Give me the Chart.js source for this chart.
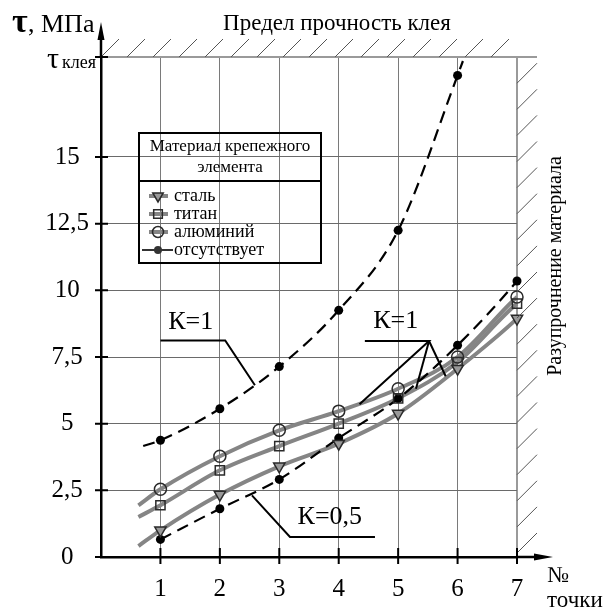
<!DOCTYPE html>
<html>
<head>
<meta charset="utf-8">
<script src="https://cdn.jsdelivr.net/npm/chart.js@4/dist/chart.umd.min.js"></script>
<style>
html, body { margin: 0; padding: 0; background: #fff; }
#wrap { width: 612px; height: 611px; }
</style>
</head>
<body>
<div id="wrap"><canvas id="chart" width="612" height="611"></canvas></div>
<script>
const SERIF = '"Liberation Serif", "DejaVu Serif", serif';

// tick labels
const pointNumbers = [1, 2, 3, 4, 5, 6, 7];
const yTickValues = [0, 2.5, 5, 7.5, 10, 12.5, 15, 18.75];
const tauGlue = 18.75;

// measured values at points 1..7 (MPa)
const steel = [1.0, 2.34, 3.4, 4.25, 5.38, 7.06, 8.94];
const titanium = [1.94, 3.25, 4.16, 5.0, 5.95, 7.31, 9.5];
const aluminum = [2.54, 3.78, 4.75, 5.47, 6.31, 7.5, 9.75];
const noneK05 = [0.66, 1.81, 2.91, 4.46, 5.94, 7.94, 10.35];
const noneK1 = [4.38, 5.56, 7.14, 9.25, 12.25, 18.06]; // points 1..6

// where the drawn curves start / end beyond the measured points
const curveStartX = 0.63;
const curveEndX = 7.3;
const steelEnds = [0.41, 9.63];
const titaniumEnds = [1.5, 9.94];
const aluminumEnds = [1.94, 10.26];
const noneK05End = [7.38, 11.44];
const noneK1Start = [0.71, 4.16];
const noneK1End = [6.09, 18.6];

const GRAY = '#858585';

function pts(xs, ys) {
    return ys.map((y, i) => ({ x: xs[i], y: y }));
}

function grayCurve(ys, ends) {
    return {
        data: [{ x: curveStartX, y: ends[0] }, ...pts(pointNumbers, ys), { x: curveEndX, y: ends[1] }],
        borderColor: GRAY,
        borderWidth: 4,
        pointRadius: 0,
        cubicInterpolationMode: 'monotone',
        clip: false,
        order: 2
    };
}

function markers(ys, style, fill, radius) {
    return {
        data: pts(pointNumbers, ys),
        showLine: false,
        pointStyle: style,
        pointRotation: style === 'triangle' ? 180 : 0,
        pointRadius: radius,
        pointBackgroundColor: fill,
        pointBorderColor: '#2a2a2a',
        pointBorderWidth: 1.5,
        clip: false,
        order: 0
    };
}

const k05Data = [...pts(pointNumbers, noneK05), { x: noneK05End[0], y: noneK05End[1] }];
const k1Data = [{ x: noneK1Start[0], y: noneK1Start[1] }, ...pts(pointNumbers, noneK1), { x: noneK1End[0], y: noneK1End[1] }];

const dashed = (data) => ({
    data: data,
    borderColor: '#000',
    borderWidth: 2.2,
    borderDash: [12, 7],
    pointRadius: data.map(p => pointNumbers.includes(p.x) ? 4.5 : 0),
    pointBackgroundColor: '#000',
    pointBorderWidth: 0,
    cubicInterpolationMode: 'monotone',
    clip: false,
    order: 1
});

// annotation leaders, in data units
const leaders = [
    { text: 'К=1', at: [1.51, 8.8], paths: [[[1.0, 8.12], [2.09, 8.12], [2.59, 6.44]]] },
    { text: 'К=1', at: [4.96, 8.84], paths: [[[4.44, 8.1], [5.52, 8.1], [4.35, 5.73]], [[5.52, 8.1], [5.30, 6.31]], [[5.52, 8.1], [5.80, 6.78]]] },
    { text: 'К=0,5', at: [3.85, 1.49], paths: [[[2.54, 2.31], [3.18, 0.75], [4.61, 0.75]]] }
];

function drawMarker(ctx, style, x, y, r) {
    ctx.beginPath();
    if (style === 'circle') {
        ctx.arc(x, y, r, 0, Math.PI * 2);
    } else if (style === 'rect') {
        const s = r * 0.72;
        ctx.rect(x - s, y - s, 2 * s, 2 * s);
    } else {
        ctx.moveTo(x - r * 0.87, y - r * 0.5);
        ctx.lineTo(x + r * 0.87, y - r * 0.5);
        ctx.lineTo(x, y + r);
        ctx.closePath();
    }
}

const decor = {
    id: 'decor',
    afterDraw(chart) {
        const ctx = chart.ctx;
        const xs = chart.scales.x, ys = chart.scales.y;
        const a = chart.chartArea;
        const X = v => xs.getPixelForValue(v);
        const Y = v => ys.getPixelForValue(v);
        ctx.save();

        // hatching: top limit and right limit
        ctx.strokeStyle = '#9a9a9a';
        ctx.lineWidth = 2;
        ctx.beginPath();
        ctx.moveTo(a.left, a.top); ctx.lineTo(a.right + 20, a.top);
        ctx.stroke();
        ctx.strokeStyle = '#555';
        ctx.lineWidth = 1;
        ctx.beginPath();
        for (let x0 = a.left; x0 < a.right; x0 += 26) {
            ctx.moveTo(x0, a.top); ctx.lineTo(x0 + 18, a.top - 18);
        }
        for (let y0 = a.bottom - 4; y0 > a.top + 20; y0 -= 26.1) {
            ctx.moveTo(a.right, y0); ctx.lineTo(a.right + 20, y0 - 20);
        }
        ctx.stroke();

        // axes extensions with arrows
        ctx.strokeStyle = '#000';
        ctx.fillStyle = '#000';
        ctx.lineWidth = 2.5;
        ctx.beginPath();
        ctx.moveTo(a.left, a.top); ctx.lineTo(a.left, 36);
        ctx.moveTo(a.right, a.bottom); ctx.lineTo(a.right + 20, a.bottom);
        ctx.stroke();
        ctx.beginPath();
        ctx.moveTo(a.left, 22); ctx.lineTo(a.left - 3.5, 40); ctx.lineTo(a.left + 3.5, 40); ctx.closePath();
        ctx.fill();
        ctx.beginPath();
        ctx.moveTo(a.right + 36, a.bottom); ctx.lineTo(a.right + 17, a.bottom - 3.5); ctx.lineTo(a.right + 17, a.bottom + 3.5); ctx.closePath();
        ctx.fill();

        // tick marks crossing the axes
        ctx.lineWidth = 2;
        ctx.beginPath();
        yTickValues.forEach(v => { ctx.moveTo(a.left - 6, Y(v)); ctx.lineTo(a.left + 7, Y(v)); });
        pointNumbers.forEach(v => { ctx.moveTo(X(v), a.bottom - 9); ctx.lineTo(X(v), a.bottom + 7); });
        ctx.stroke();

        // texts
        ctx.textBaseline = 'alphabetic';
        ctx.textAlign = 'left';
        ctx.font = 'bold 34px ' + SERIF;
        ctx.fillText('τ', 12, 32);
        ctx.font = '26px ' + SERIF;
        ctx.fillText(', МПа', 28, 32);
        ctx.font = '30px ' + SERIF;
        ctx.fillText('τ', 47, 68);
        ctx.font = '18px ' + SERIF;
        ctx.fillText('клея', 62, 68);
        ctx.font = '23px ' + SERIF;
        ctx.textAlign = 'center';
        ctx.fillText('Предел прочность клея', 337, 30);
        ctx.textAlign = 'left';
        ctx.fillText('№', 547, 582);
        ctx.fillText('точки', 547, 607);

        ctx.save();
        ctx.translate(561, 266);
        ctx.rotate(-Math.PI / 2);
        ctx.textAlign = 'center';
        ctx.font = '20px ' + SERIF;
        ctx.fillText('Разупрочнение материала', 0, 0);
        ctx.restore();

        // K annotations
        ctx.lineWidth = 2;
        ctx.strokeStyle = '#000';
        ctx.font = '26px ' + SERIF;
        ctx.textAlign = 'center';
        ctx.textBaseline = 'middle';
        leaders.forEach(l => {
            ctx.fillText(l.text, X(l.at[0]), Y(l.at[1]));
            l.paths.forEach(p => {
                ctx.beginPath();
                p.forEach((q, i) => i ? ctx.lineTo(X(q[0]), Y(q[1])) : ctx.moveTo(X(q[0]), Y(q[1])));
                ctx.stroke();
            });
        });

        // legend box
        ctx.lineWidth = 2;
        ctx.strokeRect(139, 133, 182, 130);
        ctx.beginPath();
        ctx.moveTo(139, 181); ctx.lineTo(321, 181);
        ctx.stroke();
        ctx.font = '17px ' + SERIF;
        ctx.fillText('Материал крепежного', 230, 147);
        ctx.fillText('элемента', 230, 168);
        const rows = [
            ['сталь', 'triangle', '#999'],
            ['титан', 'rect', 'rgba(255,255,255,0)'],
            ['алюминий', 'circle', 'rgba(255,255,255,0)'],
            ['отсутствует', null, '#000']
        ];
        ctx.textAlign = 'left';
        ctx.font = '18px ' + SERIF;
        rows.forEach((r, i) => {
            const ry = 196 + i * 18;
            if (r[1]) {
                ctx.strokeStyle = GRAY; ctx.lineWidth = 4;
                ctx.beginPath(); ctx.moveTo(149, ry); ctx.lineTo(168, ry); ctx.stroke();
                ctx.strokeStyle = '#2a2a2a'; ctx.lineWidth = 1.5; ctx.fillStyle = r[2];
                drawMarker(ctx, r[1], 158, ry, r[1] === 'circle' ? 5.5 : 6);
                ctx.fill(); ctx.stroke();
            } else {
                ctx.strokeStyle = '#333'; ctx.lineWidth = 2;
                ctx.beginPath(); ctx.moveTo(142, ry); ctx.lineTo(173, ry); ctx.stroke();
                ctx.fillStyle = '#333';
                ctx.beginPath(); ctx.arc(158, ry, 4, 0, Math.PI * 2); ctx.fill();
            }
            ctx.fillStyle = '#000';
            ctx.fillText(r[0], 174, ry);
        });
        ctx.restore();
    }
};

const config = {
    type: 'line',
    data: {
        datasets: [
            markers(steel, 'triangle', '#999', 6.5),
            markers(titanium, 'rect', 'rgba(255,255,255,0)', 6.5),
            markers(aluminum, 'circle', 'rgba(255,255,255,0)', 6),
            dashed(k05Data),
            dashed(k1Data),
            grayCurve(steel, steelEnds),
            grayCurve(titanium, titaniumEnds),
            grayCurve(aluminum, aluminumEnds)
        ]
    },
    options: {
        responsive: false,
        devicePixelRatio: 1,
        animation: false,
        layout: { padding: { top: 57, right: 95, left: 0, bottom: 0 } },
        plugins: { legend: { display: false }, tooltip: { enabled: false } },
        scales: {
            x: {
                type: 'linear',
                min: 0,
                max: 7,
                afterBuildTicks: s => { s.ticks = pointNumbers.map(v => ({ value: v })); },
                afterFit: s => { s.height = 54; },
                grid: {
                    color: c => c.tick && c.tick.value === 7 ? '#9a9a9a' : '#7a7a7a',
                    lineWidth: c => c.tick && c.tick.value === 7 ? 2 : 1,
                    drawTicks: false
                },
                border: { color: '#000', width: 2.5 },
                ticks: { color: '#000', font: { family: SERIF, size: 25 }, padding: 17, autoSkip: false, maxRotation: 0 }
            },
            y: {
                min: 0,
                max: tauGlue,
                afterBuildTicks: s => { s.ticks = yTickValues.map(v => ({ value: v })); },
                afterFit: s => { s.width = 101; },
                grid: {
                    color: c => c.tick && c.tick.value === tauGlue ? '#9a9a9a' : '#6a6a6a',
                    lineWidth: c => c.tick && c.tick.value === tauGlue ? 2 : 1,
                    drawTicks: false
                },
                border: { color: '#000', width: 2.5 },
                ticks: {
                    color: '#000',
                    font: { family: SERIF, size: 25 },
                    padding: 12,
                    crossAlign: 'center',
                    autoSkip: false,
                    callback: v => v === tauGlue ? '' : String(v).replace('.', ',')
                }
            }
        }
    },
    plugins: [decor]
};

const chart = new Chart(document.getElementById('chart'), config);
</script>
</body>
</html>
